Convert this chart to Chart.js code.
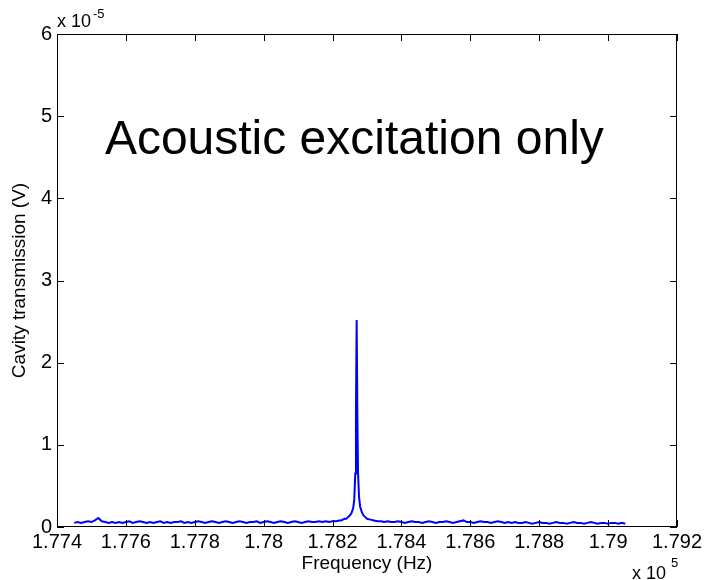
<!DOCTYPE html>
<html>
<head>
<meta charset="utf-8">
<script src="https://cdn.jsdelivr.net/npm/chart.js@4/dist/chart.umd.min.js"></script>
<style>
  html, body { margin: 0; padding: 0; background: #fff; }
  #grafico { display: block; }
</style>
</head>
<body>
<canvas id="grafico" width="705" height="580"></canvas>
<script>
// frequency in units of 1e5 Hz, transmission in units of 1e-5 V
const frequencia = [
  1.7745, 1.7746, 1.7747, 1.7748, 1.7749, 1.7750, 1.7751, 1.7752, 1.7753, 1.7754,
  1.7755, 1.7756, 1.7757, 1.7758, 1.7759, 1.7760, 1.7761, 1.7762, 1.7763, 1.7764,
  1.7765, 1.7766, 1.7767, 1.7768, 1.7769, 1.7770, 1.7771, 1.7772, 1.7773, 1.7774,
  1.7775, 1.7776, 1.7777, 1.7778, 1.7779, 1.7780, 1.7781, 1.7782, 1.7783, 1.7784,
  1.7785, 1.7786, 1.7787, 1.7788, 1.7789, 1.7790, 1.7791, 1.7792, 1.7793, 1.7794,
  1.7795, 1.7796, 1.7797, 1.7798, 1.7799, 1.7800, 1.7801, 1.7802, 1.7803, 1.7804,
  1.7805, 1.7806, 1.7807, 1.7808, 1.7809, 1.7810, 1.7811, 1.7812, 1.7813, 1.7814,
  1.7815, 1.7816, 1.7817, 1.7818, 1.7819, 1.7820, 1.7821, 1.7822,
  1.78225, 1.7823, 1.78235, 1.7824, 1.78245, 1.7825, 1.78255, 1.7826, 1.78263, 1.78266,
  1.78268, 1.7827, 1.78272, 1.78274, 1.78277, 1.7828, 1.78285, 1.7829, 1.78295, 1.7830,
  1.7831, 1.7832, 1.7833,
  1.7834, 1.7835, 1.7836, 1.7837, 1.7838, 1.7839, 1.7840, 1.7841, 1.7842, 1.7843,
  1.7844, 1.7845, 1.7846, 1.7847, 1.7848, 1.7849, 1.7850, 1.7851, 1.7852, 1.7853,
  1.7854, 1.7855, 1.7856, 1.7857, 1.7858, 1.7859, 1.7860, 1.7861, 1.7862, 1.7863,
  1.7864, 1.7865, 1.7866, 1.7867, 1.7868, 1.7869, 1.7870, 1.7871, 1.7872, 1.7873,
  1.7874, 1.7875, 1.7876, 1.7877, 1.7878, 1.7879, 1.7880, 1.7881, 1.7882, 1.7883,
  1.7884, 1.7885, 1.7886, 1.7887, 1.7888, 1.7889, 1.7890, 1.7891, 1.7892, 1.7893,
  1.7894, 1.7895, 1.7896, 1.7897, 1.7898, 1.7899, 1.7900, 1.7901, 1.7902, 1.7903,
  1.7904, 1.7905
];

const transmissao = [
  0.05, 0.06, 0.05, 0.06, 0.07, 0.06, 0.08, 0.11, 0.07, 0.06,
  0.05, 0.06, 0.05, 0.06, 0.05, 0.06, 0.07, 0.05, 0.06, 0.07,
  0.06, 0.05, 0.06, 0.05, 0.06, 0.07, 0.05, 0.06, 0.05, 0.06,
  0.06, 0.07, 0.05, 0.06, 0.05, 0.06, 0.07, 0.06, 0.05, 0.06,
  0.07, 0.06, 0.05, 0.06, 0.07, 0.06, 0.05, 0.06, 0.07, 0.06,
  0.05, 0.06, 0.06, 0.07, 0.05, 0.06, 0.07, 0.06, 0.05, 0.06,
  0.07, 0.06, 0.05, 0.06, 0.07, 0.06, 0.05, 0.06, 0.07, 0.06,
  0.06, 0.07, 0.06, 0.07, 0.06, 0.07, 0.07, 0.08,
  0.08, 0.09, 0.10, 0.10, 0.12, 0.14, 0.17, 0.23, 0.33, 0.65,
  1.40, 2.52, 1.40, 0.66, 0.36, 0.25, 0.18, 0.14, 0.12, 0.10,
  0.09, 0.08, 0.07,
  0.07, 0.06, 0.07, 0.06, 0.06, 0.07, 0.06, 0.05, 0.06, 0.07,
  0.06, 0.06, 0.05, 0.06, 0.07, 0.06, 0.05, 0.06, 0.06, 0.07,
  0.06, 0.05, 0.06, 0.07, 0.08, 0.06, 0.06, 0.05, 0.06, 0.07,
  0.06, 0.06, 0.05, 0.06, 0.07, 0.06, 0.05, 0.06, 0.05, 0.06,
  0.05, 0.05, 0.06, 0.05, 0.04, 0.05, 0.06, 0.05, 0.05, 0.04,
  0.05, 0.06, 0.05, 0.05, 0.04, 0.05, 0.06, 0.05, 0.05, 0.04,
  0.05, 0.06, 0.05, 0.04, 0.05, 0.05, 0.04, 0.05, 0.05, 0.04,
  0.05, 0.04
];

const xTicks = [1.774, 1.776, 1.778, 1.780, 1.782, 1.784, 1.786, 1.788, 1.790, 1.792];
const xTickLabels = ["1.774", "1.776", "1.778", "1.78", "1.782", "1.784", "1.786", "1.788", "1.79", "1.792"];
const yTicks = [0, 1, 2, 3, 4, 5, 6];
const yTickLabels = ["0", "1", "2", "3", "4", "5", "6"];

const textoAnotacao = "Acoustic excitation only";
const anotacaoX = 1.77539;
const anotacaoY = 4.54;

const fonte = "Arial, 'Liberation Sans', Helvetica, sans-serif";

const pontos = frequencia.map((f, i) => ({ x: f, y: transmissao[i] }));

// box, inward ticks on all four sides, exponent labels, annotation
const moldura = {
  id: "moldura",
  afterDraw(chart) {
    const c = chart.ctx;
    const a = chart.chartArea;
    const sx = chart.scales.x;
    const sy = chart.scales.y;
    c.save();
    c.strokeStyle = "#000";
    c.lineWidth = 1;
    c.strokeRect(a.left + 0.5, a.top + 0.5, a.right - a.left - 1, a.bottom - a.top - 1);
    c.beginPath();
    xTicks.forEach(v => {
      const px = Math.round(sx.getPixelForValue(v)) + 0.5;
      c.moveTo(px, a.bottom); c.lineTo(px, a.bottom - 7);
      c.moveTo(px, a.top); c.lineTo(px, a.top + 7);
    });
    yTicks.forEach(v => {
      const py = Math.round(sy.getPixelForValue(v)) + 0.5;
      c.moveTo(a.left, py); c.lineTo(a.left + 7, py);
      c.moveTo(a.right, py); c.lineTo(a.right - 7, py);
    });
    c.stroke();

    c.fillStyle = "#000";
    c.textBaseline = "alphabetic";
    c.textAlign = "left";
    // y multiplier
    c.font = "18px " + fonte;
    c.fillText("x 10", a.left, a.top - 7);
    c.font = "13px " + fonte;
    c.fillText("-5", a.left + 36, a.top - 16);
    // x multiplier
    c.font = "18px " + fonte;
    c.fillText("x 10", a.right - 45, a.bottom + 52);
    c.font = "13px " + fonte;
    c.fillText("5", a.right - 6, a.bottom + 40);

    c.font = "48px " + fonte;
    c.fillText(textoAnotacao, sx.getPixelForValue(anotacaoX), sy.getPixelForValue(anotacaoY));
    c.restore();
  }
};

const ctx = document.getElementById("grafico");

const grafico = new Chart(ctx, {
  type: "line",
  data: {
    datasets: [{
      data: pontos,
      borderColor: "#0000ff",
      borderWidth: 2,
      pointRadius: 0,
      tension: 0,
      fill: false
    }]
  },
  options: {
    responsive: false,
    animation: false,
    layout: { padding: { top: 34, right: 27, left: 0, bottom: 0 } },
    plugins: {
      legend: { display: false },
      tooltip: { enabled: false }
    },
    scales: {
      x: {
        type: "linear",
        min: 1.774,
        max: 1.792,
        afterFit(scale) { scale.height = 53; },
        afterBuildTicks(scale) { scale.ticks = xTicks.map(v => ({ value: v })); },
        grid: { display: false, drawTicks: false },
        border: { display: false },
        ticks: {
          color: "#000",
          font: { family: fonte, size: 20 },
          padding: 3,
          maxRotation: 0,
          autoSkip: false,
          callback: (v, i) => xTickLabels[i]
        },
        title: {
          display: true,
          text: "Frequency (Hz)",
          color: "#000",
          font: { family: fonte, size: 19 },
          padding: { top: 0, bottom: 5 }
        }
      },
      y: {
        type: "linear",
        min: 0,
        max: 6,
        afterFit(scale) { scale.width = 57; },
        afterBuildTicks(scale) { scale.ticks = yTicks.map(v => ({ value: v })); },
        grid: { display: false, drawTicks: false },
        border: { display: false },
        ticks: {
          color: "#000",
          font: { family: fonte, size: 20 },
          padding: 5,
          autoSkip: false,
          callback: (v, i) => yTickLabels[i]
        },
        title: {
          display: true,
          text: "Cavity transmission (V)",
          color: "#000",
          font: { family: fonte, size: 19 },
          padding: { top: 8, bottom: 0 }
        }
      }
    }
  },
  plugins: [moldura]
});
</script>
</body>
</html>
